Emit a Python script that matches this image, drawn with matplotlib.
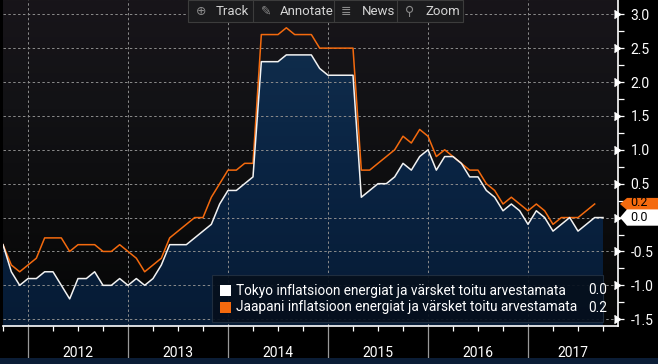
import numpy as np
import pandas as pd
import matplotlib
matplotlib.use('Agg')
import matplotlib.pyplot as plt
from matplotlib.colors import LinearSegmentedColormap
from matplotlib.patches import Rectangle, Polygon
from matplotlib.transforms import blended_transform_factory

plt.rcParams['font.family'] = ['Roboto', 'DejaVu Sans']

# Monthly data, Oct 2011 onwards (Tokyo one month longer than national)
tokyo_months = pd.date_range('2011-10-01', periods=73, freq='MS')
tokyo = [-0.4, -0.8, -1.0,
         -0.9, -0.9, -0.8, -0.8, -1.0, -1.2, -0.9, -0.9, -0.8, -1.0, -1.0, -0.9,
         -1.0, -0.9, -1.0, -0.9, -0.7, -0.4, -0.4, -0.4, -0.3, -0.2, -0.1, 0.2,
         0.4, 0.4, 0.5, 0.6, 2.3, 2.3, 2.3, 2.4, 2.4, 2.4, 2.4, 2.2,
         2.1, 2.1, 2.1, 2.1, 0.3, 0.4, 0.5, 0.5, 0.6, 0.8, 0.7, 0.9,
         1.0, 0.7, 0.9, 0.9, 0.8, 0.6, 0.6, 0.4, 0.3, 0.1, 0.2, 0.1,
         -0.1, 0.1, 0.0, -0.2, -0.1, 0.0, -0.2, -0.1, 0.0, 0.0]
japan_months = pd.date_range('2011-10-01', periods=72, freq='MS')
japan = [-0.4, -0.7, -0.8,
         -0.7, -0.6, -0.3, -0.3, -0.3, -0.5, -0.4, -0.4, -0.4, -0.5, -0.5, -0.4,
         -0.5, -0.6, -0.8, -0.7, -0.6, -0.3, -0.2, -0.1, 0.0, 0.0, 0.3, 0.5,
         0.7, 0.7, 0.8, 0.8, 2.7, 2.7, 2.7, 2.8, 2.7, 2.7, 2.7, 2.5,
         2.5, 2.5, 2.5, 2.5, 0.7, 0.7, 0.8, 0.9, 1.0, 1.2, 1.1, 1.3,
         1.2, 0.9, 1.0, 0.9, 0.8, 0.7, 0.7, 0.5, 0.4, 0.2, 0.3, 0.2,
         0.1, 0.2, 0.1, -0.1, 0.0, 0.0, 0.0, 0.1, 0.2]
years = [2012, 2013, 2014, 2015, 2016, 2017]
tokyo_label = 'Tokyo inflatsioon energiat ja värsket toitu arvestamata'
japan_label = 'Jaapani inflatsioon energiat ja värsket toitu arvestamata'


def month_index(dates):
    return np.array([(d.year - 2012) * 12 + d.month - 1 for d in dates])


xt = month_index(tokyo_months)
xj = month_index(japan_months)

W, H = 658, 364
fig = plt.figure(figsize=(W / 100, H / 100), dpi=100, facecolor='black')


def fx(px):
    return px / W


def fy(py):
    return 1 - py / H


ax = fig.add_axes([fx(3), fy(326), fx(618) - fx(3), fy(0) - fy(326)])
ax.set_facecolor('#0b0b0c')
xmin, xmax = -3, 70.8
ymin, ymax = -1.6, 3.21

# background gradient
bg = LinearSegmentedColormap.from_list('bg', ['#050606', '#0c0c0d', '#121215', '#18151a'])
ax.imshow(np.linspace(0, 1, 256).reshape(-1, 1), extent=[xmin, xmax, ymin, ymax],
          origin='lower', aspect='auto', cmap=bg, zorder=0)

# filled area under Tokyo series
poly = ax.fill_between(xt, tokyo, ymin, facecolor='none', edgecolor='none', zorder=1)
fillmap = LinearSegmentedColormap.from_list('fill', ['#061b35', '#0a2443', '#12304f'])
im = ax.imshow(np.linspace(0, 1, 256).reshape(-1, 1), extent=[xmin, xmax, ymin, ymax],
               origin='lower', aspect='auto', cmap=fillmap, zorder=1)
im.set_clip_path(poly.get_paths()[0], transform=ax.transData)

ax.plot(xj, japan, color='#f46a0e', lw=1.1, zorder=3)
ax.plot(xt, tokyo, color='#f2f2f2', lw=1.1, zorder=4)

ax.set_xlim(xmin, xmax)
ax.set_ylim(ymin, ymax)

# grid
yt = np.arange(-1.5, 3.01, 0.5)
for v in yt:
    ax.axhline(v, color='#8c8c8c', lw=0.7, ls=(0, (2.5, 2.5)), zorder=2)
for i in range(len(years)):
    ax.axvline(i * 12, color='#8c8c8c', lw=0.7, ls=(0, (2.5, 2.5)), zorder=2)

# x axis
ax.set_xticks([i * 12 for i in range(len(years))])
ax.set_xticks(np.arange(-3, 71, 3), minor=True)
ax.tick_params(axis='x', which='major', length=23, width=0.9, color='#9a9a9a',
               labelbottom=False)
ax.tick_params(axis='x', which='minor', length=3.5, width=0.9, color='white')
tr = ax.get_xaxis_transform()
for i, yr in enumerate(years):
    left = i * 12
    right = min(left + 12, xmax)
    ax.text((left + right) / 2, -0.082, str(yr), transform=tr, ha='center', va='center',
            color='white', fontsize=10)

# y axis on right (0.0 label is covered by the last-value tag)
ax.yaxis.tick_right()
ax.set_yticks(yt)
ax.set_yticks(np.arange(-1.25, 3.1, 0.5), minor=True)
ax.set_yticklabels(['' if abs(v) < 1e-9 else f'{v:.1f}' for v in yt])
ax.tick_params(axis='y', which='major', length=4, width=0.9, color='white',
               labelcolor='white', labelsize=10, pad=5)
ax.tick_params(axis='y', which='minor', length=4, width=0.9, color='white')
ax.plot([1.004] * len(yt), yt, transform=ax.get_yaxis_transform(), ls='none',
        marker=5, ms=5.5, color='white', clip_on=False, zorder=6)
for s in ['top', 'left']:
    ax.spines[s].set_visible(False)
for s in ['bottom', 'right']:
    ax.spines[s].set_color('white')
    ax.spines[s].set_linewidth(1.2)

# last value tags
btr = blended_transform_factory(fig.transFigure, ax.transData)
for val, half, shift, fc, z in [(japan[-1], 0.09, 0.02, '#f46a0e', 7),
                                (tokyo[-1], 0.12, 0.0, 'white', 8)]:
    pts = [(fx(620), val), (fx(627), val + half), (1.0, val + half),
           (1.0, val - half), (fx(627), val - half)]
    fig.patches.append(Polygon(pts, closed=True, transform=btr, facecolor=fc,
                               edgecolor='none', zorder=z))
    fig.text(fx(630), val + shift, f'{val:.1f}', transform=btr, color='black',
             fontsize=9, ha='left', va='center', zorder=z + 1)

# legend
fig.patches.append(Rectangle((fx(212), fy(322)), fx(603) - fx(212), fy(275) - fy(322),
                             transform=fig.transFigure, facecolor='#050f1c',
                             edgecolor='#223040', lw=0.8, alpha=0.92, zorder=9))
for row, (lab, val, col) in enumerate([(tokyo_label, tokyo[-1], 'white'),
                                       (japan_label, japan[-1], '#f46a0e')]):
    yc = 290.5 + row * 17
    fig.patches.append(Rectangle((fx(220), fy(yc + 5.5)), fx(11), fy(0) - fy(11),
                                 transform=fig.transFigure, facecolor=col,
                                 edgecolor='none', zorder=10))
    fig.text(fx(236), fy(yc), lab, color='white', fontsize=9.8, ha='left',
             va='center', zorder=10)
    fig.text(fx(607), fy(yc), f'{val:.1f}', color='white', fontsize=9.8,
             ha='right', va='center', zorder=10)

# toolbar
fig.patches.append(Rectangle((fx(188), fy(22)), fx(463) - fx(188), fy(0) - fy(22),
                             transform=fig.transFigure, facecolor='#1b1b1d',
                             edgecolor='#3c3c3c', lw=0.8, zorder=9))
for sx in [253, 334, 397]:
    fig.lines.append(plt.Line2D([fx(sx), fx(sx)], [fy(21), fy(1)], transform=fig.transFigure,
                                color='#3c3c3c', lw=0.8, zorder=10))
for ix, icon, tx, lab in [(201, '⊕', 216, 'Track'), (266, '✎', 280, 'Annotate'),
                          (346, '≣', 362, 'News'), (410, '⚲', 425, 'Zoom')]:
    fig.text(fx(ix), fy(11.5), icon, color='#8a8a8a', fontsize=9, ha='center',
             va='center', family=['DejaVu Sans'], zorder=10)
    fig.text(fx(tx), fy(11.5), lab, color='#d4d4d4', fontsize=9.5, ha='left',
             va='center', zorder=10)

# bottom strip
fig.patches.append(Rectangle((0, 0), 1, fy(358), transform=fig.transFigure,
                             facecolor='#0b1d36', edgecolor='none', zorder=9))

fig.savefig('out.png', dpi=100, facecolor='black')
